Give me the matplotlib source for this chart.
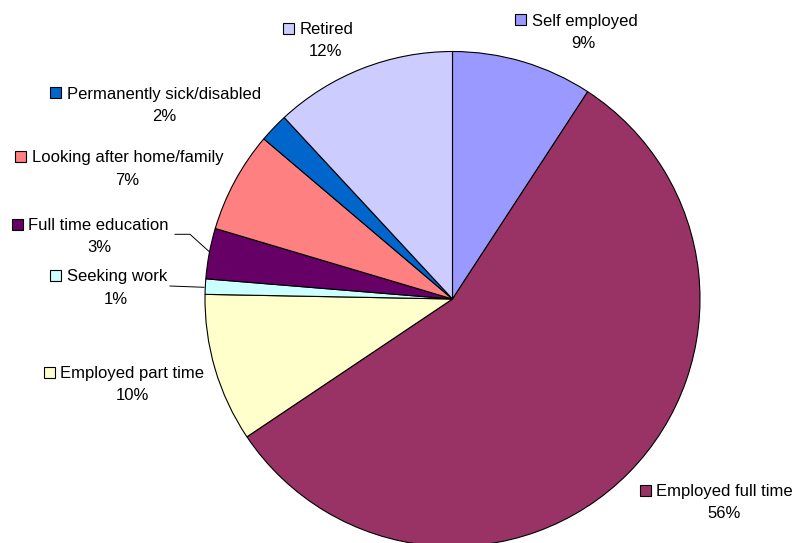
import matplotlib
matplotlib.use("Agg")
import matplotlib.pyplot as plt
from matplotlib.patches import Rectangle

# Economic activity breakdown (percent of respondents)
categories = [
    "Self employed",
    "Employed full time",
    "Employed part time",
    "Seeking work",
    "Full time education",
    "Looking after home/family",
    "Permanently sick/disabled",
    "Retired",
]
shares = [9.2, 56.4, 9.7, 1.0, 3.3, 6.6, 1.9, 11.9]
pct_labels = ["9%", "56%", "10%", "1%", "3%", "7%", "2%", "12%"]
colors = ["#9999FF", "#993366", "#FFFFCC", "#CCFFFF",
          "#660066", "#FF8080", "#0066CC", "#CCCCFF"]

W, H = 793, 543
plt.rcParams["font.family"] = ["Liberation Sans", "DejaVu Sans"]

fig = plt.figure(figsize=(W / 100, H / 100), dpi=100)
ax = fig.add_axes([0, 0, 1, 1])

cx, cy, r = 452.5, 299.0, 247.5

ax.pie(shares, colors=colors, startangle=90, counterclock=False,
       center=(cx, H - cy), radius=r,
       wedgeprops=dict(edgecolor="black", linewidth=0.8))

ax.set_xlim(0, W)
ax.set_ylim(0, H)
ax.set_aspect("equal")
ax.axis("off")

# label layout in pixel space (top-left origin): name left x, name baseline y,
# percentage centre x
name_x = [531.7, 656.0, 60.0, 66.7, 28.3, 31.7, 66.7, 299.3]
name_base = [25.6, 496.3, 377.8, 281.4, 230.2, 162.4, 98.6, 34.3]
pct_cx = [583.8, 724.5, 132.2, 116.2, 99.2, 126.7, 164.0, 325.5]
line_gap = 22.2
fs = 12.0

for name, pct, col, nx, nb, pcx in zip(categories, pct_labels, colors,
                                       name_x, name_base, pct_cx):
    ax.text(nx, H - nb, name, ha="left", va="baseline", fontsize=fs,
            color="black")
    ax.text(pcx, H - (nb + line_gap), pct, ha="center", va="baseline",
            fontsize=fs, color="black")
    ax.add_patch(Rectangle((nx - 16.3, H - nb + 0.3), 11, 11,
                           facecolor=col, edgecolor="black", linewidth=0.8))

# leader lines for the two thin slices
ax.plot([175, 190, 209.3], [H - 234.3, H - 234.3, H - 251.7],
        color="black", linewidth=0.7)
ax.plot([170, 204], [H - 286.0, H - 287.3], color="black", linewidth=0.7)

fig.savefig("out.png", dpi=100)
